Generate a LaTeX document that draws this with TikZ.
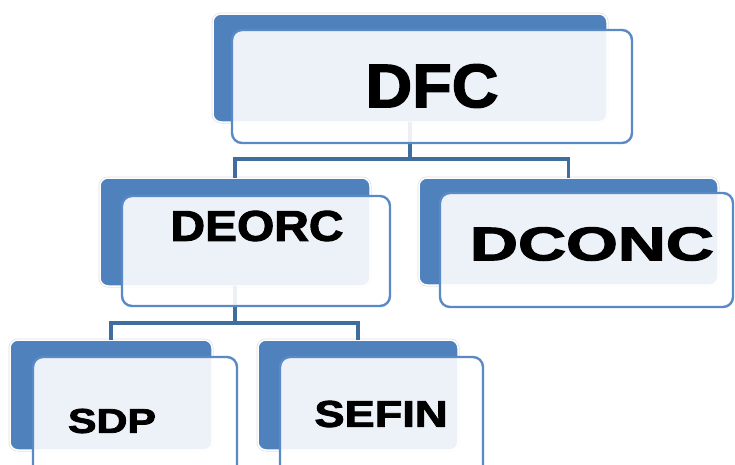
\documentclass[tikz,border=0pt]{standalone}
\usepackage{fontspec}
\setmainfont{Liberation Sans}
\newfontfamily\heavyfont[BoldFeatures={FakeBold=2.2}]{Liberation Sans}
\usepackage{graphicx}
\definecolor{backblue}{HTML}{4F81BD}
\definecolor{frontline}{HTML}{5A8AC6}
\definecolor{linkblue}{HTML}{3F6E9E}
% heavy caption stretched to a given width and cap height
\newcommand\boxtext[3]{\resizebox{#1}{#2}{\heavyfont\bfseries #3}}
\begin{document}
\begin{tikzpicture}[x=1pt,y=-1pt,
  backbox/.style={rectangle, rounded corners=8pt, fill=backblue, draw=white,
    line width=1.5pt, preaction={draw=black!12, line width=3pt},
    inner sep=0pt, outer sep=0pt},
  frontbox/.style={rectangle, rounded corners=10pt, fill=white, fill opacity=0.9,
    draw=frontline, draw opacity=1, line width=2.4pt, inner sep=0pt, outer sep=0pt},
  link/.style={draw=linkblue, line width=3.6pt},
  caption/.style={inner sep=0pt, text=black}]
\useasboundingbox (0,0) rectangle (735,464);
\clip (0,0) rectangle (735,464);

% back plates
\node[backbox, minimum width=394pt, minimum height=108pt] (dfcB)   at (410,68)  {};
\node[backbox, minimum width=270pt, minimum height=108pt] (deorcB) at (235,232) {};
\node[backbox, minimum width=299pt, minimum height=107pt] (dconcB) at (568.5,231.5) {};
\node[backbox, minimum width=202pt, minimum height=110pt] (sdpB)   at (111,395) {};
\node[backbox, minimum width=200pt, minimum height=110pt] (sefinB) at (358,395) {};

% connectors
\coordinate (bus1) at (410,159);
\coordinate (bus2) at (235,323);
\draw[link] (dfcB.south) -- (bus1);
\draw[link] (deorcB.north) |- (bus1) -| (dconcB.north);
\draw[link] (deorcB.south) -- (bus2);
\draw[link] (sdpB.north) |- (bus2) -| (sefinB.north);

% front panels
\node[frontbox, minimum width=400pt, minimum height=113pt] (dfcF)   at (432,86.5) {};
\node[frontbox, minimum width=268pt, minimum height=110pt] (deorcF) at (256,251)  {};
\node[frontbox, minimum width=293pt, minimum height=114pt] (dconcF) at (586.5,250) {};
\node[frontbox, minimum width=204pt, minimum height=118pt] (sdpF)   at (135,416)  {};
\node[frontbox, minimum width=203pt, minimum height=118pt] (sefinF) at (381.5,416) {};

% captions
\node[caption] (dfc)   at (432,86)  {\boxtext{133pt}{43pt}{DFC}};
\node[caption] (deorc) at (257,226) {\boxtext{173pt}{30pt}{DEORC}};
\node[caption] (dconc) at (592,244) {\boxtext{244pt}{33pt}{DCONC}};
\node[caption] (sdp)   at (112,421) {\boxtext{88pt}{24pt}{SDP}};
\node[caption] (sefin) at (381,414) {\boxtext{133pt}{26pt}{SEFIN}};
\end{tikzpicture}
\end{document}
